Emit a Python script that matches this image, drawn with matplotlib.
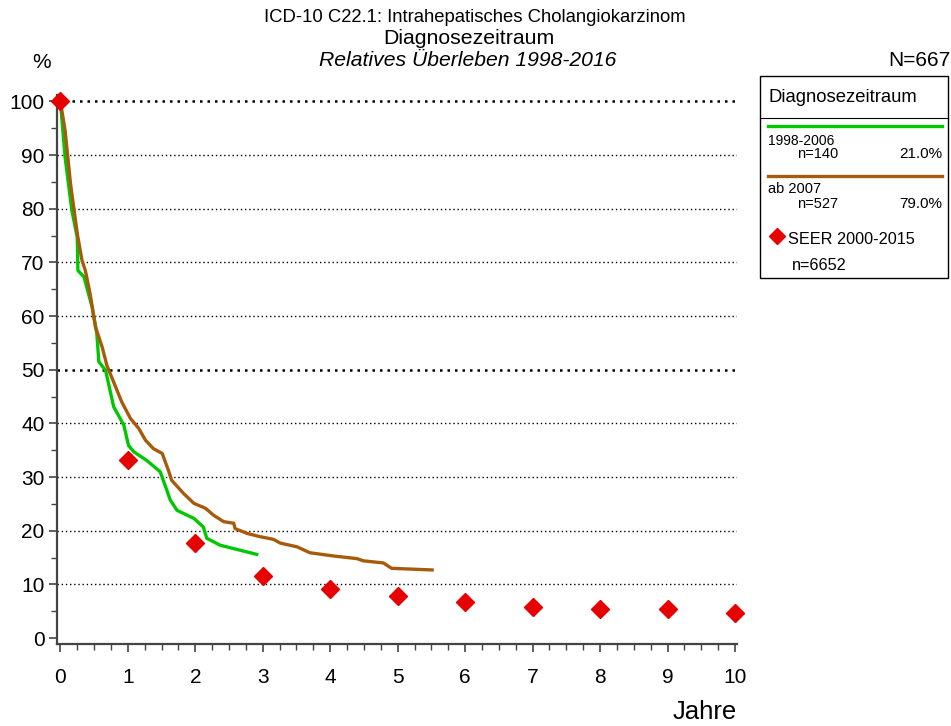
import numpy as np
import matplotlib.pyplot as plt
from matplotlib.ticker import MultipleLocator
from matplotlib.lines import Line2D

plt.rcParams['font.family'] = ['Liberation Sans', 'DejaVu Sans']

# Kurve 1998-2006 (Jahre, relatives Ueberleben %)
t_alt = [0, 0.07, 0.17, 0.25, 0.26, 0.35, 0.47, 0.54, 0.57, 0.67, 0.79, 0.94, 1.01,
         1.09, 1.28, 1.48, 1.56, 1.63, 1.73, 1.98, 2.12, 2.17, 2.37, 2.91]
s_alt = [100, 89.6, 79.7, 74.7, 68.5, 67.3, 61.7, 56.8, 51.5, 49.9, 43.1, 39.7, 35.9,
         34.7, 33.1, 31.0, 28.2, 25.7, 23.8, 22.3, 20.7, 18.6, 17.3, 15.6]

# Kurve ab 2007
t_neu = [0, 0.07, 0.15, 0.25, 0.32, 0.37, 0.44, 0.52, 0.62, 0.69, 0.79, 0.91, 1.04,
         1.16, 1.26, 1.38, 1.51, 1.60, 1.65, 1.83, 1.98, 2.15, 2.27, 2.42, 2.57, 2.59,
         2.77, 2.96, 3.16, 3.26, 3.51, 3.70, 4.05, 4.40, 4.49, 4.79, 4.91, 5.51]
s_neu = [100, 94.6, 84.7, 75.4, 70.4, 68.5, 64.2, 58.0, 54.2, 50.8, 47.7, 44.0, 40.9,
         39.1, 36.9, 35.3, 34.4, 31.3, 29.4, 26.9, 25.1, 24.2, 22.9, 21.7, 21.4, 20.4,
         19.5, 18.9, 18.4, 17.7, 17.0, 15.9, 15.3, 14.8, 14.4, 14.0, 13.0, 12.7]

# SEER 2000-2015
seer_t = [0, 1, 2, 3, 4, 5, 6, 7, 8, 9, 10]
seer_s = [100, 33.1, 17.7, 11.5, 9.1, 7.8, 6.7, 5.8, 5.4, 5.4, 4.7]

gruen = '#00c800'
braun = '#a85a0c'
rot = '#e60000'

W, H = 951, 726
fig = plt.figure(figsize=(W / 100, H / 100), dpi=100)
ax = fig.add_axes([57 / W, 1 - 644 / H, 680 / W, 549 / H])

for y in range(10, 101, 10):
    lw = 1.8 if y in (50, 100) else 1.0
    ax.axhline(y, color='black', linestyle=(0, (1, 2)), linewidth=lw, zorder=1)

ax.plot(t_alt, s_alt, color=gruen, linewidth=2.4, zorder=3)
ax.plot(t_neu, s_neu, color=braun, linewidth=2.4, zorder=3)
ax.plot(seer_t, seer_s, linestyle='none', marker='D', markersize=9,
        color=rot, zorder=4, clip_on=False)

ax.set_xlim(-0.05, 10.03)
ax.set_ylim(-1.1, 101.2)
ax.xaxis.set_major_locator(MultipleLocator(1))
ax.xaxis.set_minor_locator(MultipleLocator(0.25))
ax.yaxis.set_major_locator(MultipleLocator(10))
ax.yaxis.set_minor_locator(MultipleLocator(5))
ax.tick_params(which='major', length=6, width=1.2, color='#444444',
               labelsize=15, pad=11)
ax.tick_params(which='minor', length=4, width=1.0, color='#444444')
ax.tick_params(axis='y', pad=3)
for sp in ['top', 'right']:
    ax.spines[sp].set_visible(False)
for sp in ['left', 'bottom']:
    ax.spines[sp].set_linewidth(1.6)
    ax.spines[sp].set_color('#444444')

# Titel und Beschriftungen
fig.text(475 / W, 1 - 17 / H, 'ICD-10 C22.1: Intrahepatisches Cholangiokarzinom',
         ha='center', va='center', fontsize=13.3)
fig.text(469 / W, 1 - 38 / H, 'Diagnosezeitraum', ha='center', va='center', fontsize=15.3)
fig.text(468 / W, 1 - 60 / H, 'Relatives Überleben 1998-2016', ha='center',
         va='center', fontsize=15.2, style='italic')
fig.text(42 / W, 1 - 62 / H, '%', ha='center', va='center', fontsize=15)
fig.text(951 / W, 1 - 60 / H, 'N=667', ha='right', va='center', fontsize=15)
fig.text(705 / W, 1 - 712 / H, 'Jahre', ha='center', va='center', fontsize=18.5)

# Legende als Kasten
lx0, lx1, ly0, ly1 = 760, 948, 76, 278
fig.add_artist(plt.Rectangle((lx0 / W, 1 - ly1 / H), (lx1 - lx0) / W, (ly1 - ly0) / H,
                             transform=fig.transFigure, fill=False,
                             edgecolor='black', linewidth=1.0))
fig.add_artist(Line2D([lx0 / W, lx1 / W], [1 - 118 / H, 1 - 118 / H],
                      color='black', linewidth=0.8))
fig.text(768 / W, 1 - 97 / H, 'Diagnosezeitraum', va='center', fontsize=13.3)
fig.add_artist(Line2D([768 / W, 942 / W], [1 - 126 / H, 1 - 126 / H],
                      color=gruen, linewidth=2.4))
fig.text(768 / W, 1 - 141 / H, '1998-2006', va='center', fontsize=10)
fig.text(797 / W, 1 - 154 / H, 'n=140', va='center', fontsize=10.5)
fig.text(942 / W, 1 - 154 / H, '21.0%', ha='right', va='center', fontsize=11)
fig.add_artist(Line2D([768 / W, 942 / W], [1 - 176 / H, 1 - 176 / H],
                      color=braun, linewidth=2.4))
fig.text(768 / W, 1 - 189 / H, 'ab 2007', va='center', fontsize=10.5)
fig.text(797 / W, 1 - 204 / H, 'n=527', va='center', fontsize=10.5)
fig.text(942 / W, 1 - 204 / H, '79.0%', ha='right', va='center', fontsize=11)
fig.add_artist(Line2D([777 / W], [1 - 236 / H], marker='D', markersize=8,
                      color=rot, linestyle='none'))
fig.text(788 / W, 1 - 239 / H, 'SEER 2000-2015', va='center', fontsize=11.7)
fig.text(792 / W, 1 - 265 / H, 'n=6652', va='center', fontsize=11.7)

fig.savefig('out.png', dpi=100)
